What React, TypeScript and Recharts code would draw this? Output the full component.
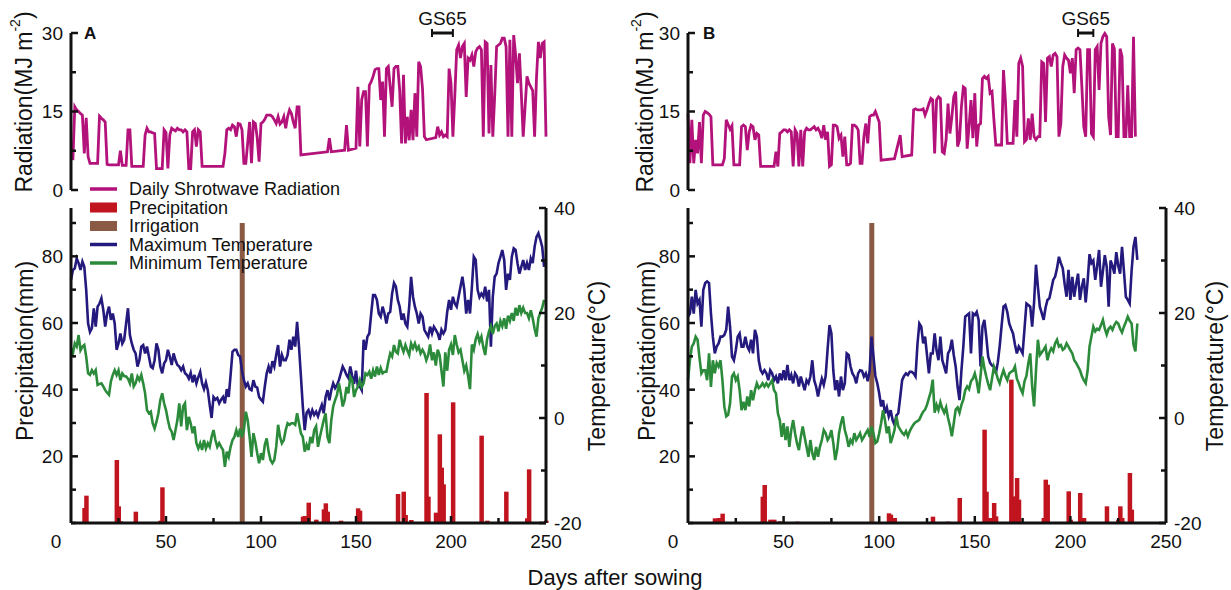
import React from "react";
import { Bar, ComposedChart, Line, LineChart, ReferenceLine, XAxis, YAxis } from "recharts";

const FONT = '"Liberation Sans", Arial, Helvetica, sans-serif';
const INK = "#111";
const RAD = "#b3127b";
const RAIN = "#c0141f";
const IRR = "#8b5a45";
const TMAX = "#24197d";
const TMIN = "#2b8b3a";

// ---- panel A (daily, index = day; radiation starts at day 1) ----
const radiationA: (number | null)[] = [
  5.7, 15.9, 15.3, 15, 14.6, 14.3, 7, 13.8, 6.4, 5.1,
  5.1, 5.1, 5.1, 5.1, 14.1, 13.7, 13.4, 13, 4.9, 4.8,
  4.8, 4.8, 4.8, 4.8, 4.8, 7.5, 4.7, 4.7, 4.7, 11.5,
  11.5, 4.5, 4.5, 4.5, 4.5, 4.5, 4.5, 4.5, 10.5, 11.8,
  11.1, 11.1, 10.9, 10.8, 4.1, 4.1, 4.1, 4.1, 11.5, 11,
  4.1, 10.5, 11.8, 11.5, 11.3, 11.8, 11.5, 11.5, 11.1, 11.5,
  11.1, 4.1, 4.1, 11.1, 11.5, 8.3, 11.5, 11.1, 4.5, 4.5,
  4.5, 4.5, 4.5, 4.5, 4.5, 4.5, 4.5, 4.5, 4.5, 4.5,
  7, 11.5, 11.8, 11.5, 12.4, 12.1, 10.2, 12.7, 12.6, 11.5,
  5.1, 5.1, 9, 13, 5.1, 13, 12.7, 10, 5.4, 12.7,
  13, 13.5, 14.3, 14.3, 14.3, 14, 13.4, 12.7, 14, 12.6,
  13, 14, 11.8, 14, 15.3, 14.6, 13, 11.8, 15.9, 15.9,
  6.7, null, null, null, null, null, null, null, null, null,
  null, null, null, null, 7.3, 9.9, 7.3, null, null, null,
  null, null, null, 7.6, 12.4, 7.6, null, null, null, 8,
  19.7, 8.3, 17.2, 18.8, 18.8, 8.3, 20, 20.7, 21.7, 23,
  23.2, 23.2, 17.2, 20.7, 10.2, 23.2, 23.6, 19.7, 15.9, 23.2,
  23.6, 23.6, 19, 8.9, 22, 8.9, 14, 9.5, 15.3, 9.5,
  18.5, 10.2, 24.5, 23.6, 19.4, 10.2, 9.6, null, null, null,
  null, 10, 12.1, 10.5, 11.1, 10.2, 10.5, 10.2, 23.2, 20.4,
  10.2, 18, 26.8, 27.7, 25.2, 27.4, 28, 17.8, 25.2, 24.8,
  25.8, 23.6, 26.4, 27.1, 27.4, 26.8, 10.2, 28.3, 28, 10.8,
  23.9, 10.2, 18, 27.4, 27.7, 28, 29, 29, 27.4, 10.2,
  28.7, 10.2, 29.6, 25.8, 20.4, 26.1, 18.5, 10.2, 15.9, 21.7,
  20.4, 19.7, 19, 10.2, 21.5, 28.3, 25.2, 28, 28.3, 10.2,
];

const tmaxA = [
  26.3, 28.2, 28.5, 30.4, 29.5, 28.2, 29.8, 28.8, 24.4, 18,
  16.4, 17.1, 20.9, 17.4, 21.2, 21.8, 22.8, 20.6, 17.4, 19.9,
  21.2, 18.7, 19.9, 18, 13, 14.2, 16.1, 14.2, 14.9, 18,
  20.9, 15.8, 14.2, 13, 12.3, 9.8, 11, 13.6, 13.9, 12.3,
  13.6, 11.7, 9.8, 9.5, 11, 14.2, 13, 9.8, 8.5, 10.4,
  11, 13, 11.7, 10.1, 12.3, 11, 10.1, 9.8, 9.1, 9.8,
  8.5, 8.2, 7.5, 8.6, 6.8, 8.2, 6.6, 7.8, 8.8, 6.6,
  5.5, 6.8, 5.3, 2.5, 0, 4, 3.5, 3.8, 2.8, 3.5,
  4, 2.8, 5.5, 4, 8.2, 12.6, 13, 13, 12, 11.7,
  9, 7.2, 6, 6.6, 5.5, 5.3, 7.2, 6, 5.8, 4,
  3.5, 3.1, 6, 8.5, 9.8, 8.5, 10.8, 9.8, 12, 13.9,
  9.8, 12, 11, 11, 12, 14.9, 13, 15.5, 13.6, 18.3,
  13.6, 8, 2.2, -2.3, 1, 1.5, 0.3, 1.5, 0.6, 1.2,
  0.3, 1.5, 2.5, 0.9, 4, 5.3, 3.4, 5.3, 6.6, 5.7,
  6.3, 7.2, 8.5, 9.8, 9.1, 8.2, 7.6, 9.8, 8, 6.5,
  9, 6, 6, 5.3, 14.9, 13, 15.5, 16.1, 19.9, 23.4,
  23.4, 22.5, 19.9, 19.3, 21.2, 19.9, 18, 19.9, 20.2, 23.7,
  25.7, 25, 22.5, 21.2, 18.7, 19.9, 18, 17.4, 21.2, 26.9,
  23.1, 21.2, 19.9, 18, 19.9, 19.3, 16.8, 16.1, 15.5, 17.4,
  16.1, 17.4, 16.8, 16.1, 14.9, 16.8, 16.1, 16.8, 20.2, 22.5,
  20.6, 23.1, 21.8, 21.2, 23.1, 25, 26.9, 24.4, 19.9, 22.5,
  19.9, 25, 30.7, 30.1, 24.4, 23, 23.7, 23.1, 25, 22.2,
  24.4, 13.6, 23.1, 26.9, 27.5, 29.5, 30.7, 32, 30.1, 24.4,
  27.5, 26.3, 30.7, 32.3, 32, 29.5, 27.5, 28.8, 30.1, 28.2,
  29.5, 28.2, 30.4, 29.5, 32.6, 34.5, 35.2, 34, 32.6, 28.8,
];

const tminA = [
  13.3, 12.3, 14.2, 13.6, 15.8, 12.9, 13.6, 13.9, 11.7, 8.5,
  8.2, 9.1, 8.5, 9.1, 6.3, 6.5, 6.6, 6, 5.3, 4.8,
  4.4, 7, 8.2, 9.1, 8.2, 9.1, 7.2, 8.5, 8, 7.9,
  7.5, 6.6, 8.5, 6, 6.6, 7.9, 7.2, 8.2, 6.6, 4.7,
  1.5, 0.9, 1.2, -1, -2, -0.7, 0.9, 3.4, 4.7, 2.8,
  1.5, -0.4, -2, -2.6, -4.2, -2.3, -0.4, 2.8, -1.6, 2.2,
  2.8, -2.3, 0.2, -1, -2.9, -1.6, -4.8, -5.8, -4.8, -6.1,
  -4.2, -5.8, -4.8, -5.5, -3.6, -2.3, -4.2, -5.5, -4.8, -5.5,
  -6.1, -9.3, -6.4, -7.4, -5.5, -4.2, -3.6, -2.3, -3.6, -2,
  -3.6, -2.3, 1.2, -0.4, -3.6, -7.4, -2.9, -4.5, -6.7, -8.6,
  -6.7, -8, -5.1, -3.9, -6.4, -8, -8.6, -8, -5.5, -1.3,
  -3.6, -4.8, -4.2, -2.3, -1, -1.3, -1, -1, -1.3, 0.9,
  -1, -2.9, -3.6, -6.4, -5.1, -6.1, -3.6, -4.8, -2.3, -1.6,
  -5.5, -3.6, -2, -0.4, 0.9, -3.6, -4.8, -0.4, 2.2, 3.4,
  4.4, 6.6, 4.7, 2.2, 3.4, 5.9, 4.7, 7.9, 7.2, 4,
  5.3, 5.9, 7.2, 5.9, 6.6, 8.5, 8.2, 8.8, 7.5, 9.1,
  7.9, 9.8, 8.2, 9.5, 8.5, 8.8, 8.8, 10.7, 12.3, 11.7,
  13.9, 12.6, 12.3, 14.9, 13.6, 12.6, 13.9, 12.9, 12, 14.2,
  13.3, 14.2, 13, 13.6, 12.3, 13, 12.3, 11, 12, 14,
  11, 12.5, 10, 13, 12, 9, 6, 12.5, 9, 13,
  14, 12, 15.8, 14, 12.5, 13, 11, 9, 10, 8,
  5.5, 14, 13, 15, 16, 14.5, 15.5, 13.5, 12, 15,
  16.5, 17.5, 16, 17.5, 18, 16.5, 18.5, 17.5, 19, 17,
  19.5, 18.5, 20, 18.5, 21, 19.5, 21.5, 20, 21, 20,
  20, 19, 20.5, 19, 17, 15.5, 19, 20, 21, 22.5,
];

const rainA: [number, number][] = [
  [7, 4.5], [8, 8.2], [24, 18.9], [25, 5], [26, 0.5], [34, 3.4], [47, 0.7], [48, 10.7],
  [122, 1.9], [123, 2.1], [125, 6.1], [129, 1], [133, 4.1], [134, 5.9], [135, 3.4], [142, 0.7],
  [151, 4.4], [152, 3.7], [172, 8.7], [175, 9.4], [176, 2.4], [179, 0.9], [187, 39], [188, 7.9],
  [192, 3.1], [194, 26.6], [195, 16.6], [196, 11.6], [201, 36.2], [216, 26.2], [219, 0.7],
  [229, 9.4], [240, 1.4], [241, 16.1], [250, 0.7],
];
const irrigationA: [number, number][] = [[90, 90]];
const gs65A: [number, number] = [190, 201];

// ---- panel B (daily, index = day) ----
const radiationB: (number | null)[] = [
  14.6, 5.1, 13.4, 5.1, 9.6, 7, 13, 5.1, 14.3, 15,
  14.8, 14.5, 14, 4.8, 4.8, 4.8, 4.8, 4.8, 4.8, 6,
  13.4, 12.5, 11.6, 12.3, 4.8, 4.8, 4.8, 4.8, 12.1, 12.4,
  12.1, 7.6, 11.1, 12.4, 12.1, 9.6, 10.8, 10.5, 4.5, 4.5,
  4.5, 4.5, 4.5, 4.5, 4.5, 4.5, 7.3, 4.5, 10.8, 11.1,
  11.5, 11.5, 11.1, 11.5, 11.1, 4.5, 11.5, 10.8, 4.5, 11.5,
  4.5, 11.1, 11.8, 11.5, 11.5, 11.8, 12.1, 11.5, 11.8, 11.1,
  9.9, 12.4, 9.6, 11.1, 4.5, 4.8, 12.4, 12.4, 12.1, 9.9,
  10.5, 6.4, 10.2, 4.8, 4.8, 5.1, 12.4, 12.4, 12.1, 11.5,
  5.1, 5.1, 10.2, 12.7, 8.9, 14, 14.3, 14.3, 15, 14,
  13, 5.7, null, null, null, null, null, null, 6, null,
  null, 10.5, 6.4, null, null, null, null, 6.7, 15.3, 15.5,
  15.3, 15.3, 15.3, 15.5, 14.3, 15.3, 16.5, 17.5, 17.2, 7,
  17.2, 17.8, 17.5, 7.3, 7, 9.6, 16.5, 10.8, 14, 17.8,
  18.8, 8.3, 9.6, 15.9, 19.7, 19.4, 7.9, 12.1, 17.2, 9.9,
  18.5, 8.3, 12.4, 12.7, 21.3, 21.7, 21.3, 21.7, 18.5, 18.8,
  13.4, 8.6, 8.6, 8.6, 8.6, 22.9, 17.2, 8.9, 8.9, 8.9,
  8.9, 17.2, 10.2, 24.2, 25.2, 23.6, 9.2, 9.6, 13.7, 9.6,
  14.6, 10.2, 9.6, 10.2, 10.2, 24.5, 24.2, 13, 25.2, 25.5,
  23.6, 25.8, 26.1, 25.5, 10.2, 12.7, 23.6, 25.8, 25.2, 24.8,
  22.3, 25.2, 18.5, 26.8, 27.1, 26.8, 19.7, 12.1, 10.2, 26.8,
  26.8, 10.8, 10.2, 26.8, 27.4, 19.1, 28, 29.3, 29.9, 29.3,
  14, 10.5, 28, 27, 10.2, 10.2, 27, 25.5, 10.2, 10.2,
  20, 10.2, 10.2, 29.3, 10.2,
];

const tmaxB = [
  19.3, 19.9, 23.1, 19.9, 24.4, 21.8, 22.5, 17.4, 24.4, 25.7,
  26, 25.7, 19.9, 15.5, 12.3, 13.6, 14.2, 15.5, 15.5, 15.8,
  16.8, 21.2, 17.4, 11.7, 11, 12.9, 15.5, 16.1, 13.6, 13.6,
  15.5, 13.6, 12.9, 14.9, 12.3, 16.8, 15.5, 11, 9.1, 8.5,
  9.1, 8.5, 7.2, 9.1, 8.5, 7.2, 7.9, 6.6, 8.5, 7.2,
  9.1, 7.2, 10.1, 7.2, 8.2, 6.6, 8.5, 7.9, 6, 7.9,
  6.6, 5.3, 7.2, 6.6, 7.9, 11, 7.2, 6, 4.1, 6,
  7.5, 6.3, 8, 13, 17.7, 16.1, 9, 5.3, 7.2, 4.1,
  7.9, 5.3, 6.6, 12.3, 12, 9.8, 8.5, 7.9, 6.6, 8.5,
  9.1, 9, 7.9, 8.5, 7, 9, 15.5, 11.7, 8, 6.6,
  4.7, 2.2, 3.4, 0.9, 2, 0.3, 1.5, -0.4, -1.3, 0.5,
  0.9, 4, 7.2, 8, 8.5, 8.2, 8.8, 8.8, 8.5, 7.9,
  14, 18, 17.4, 14.2, 15.5, 12, 8.5, 12.3, 12.3, 16.1,
  12.9, 11, 15.5, 11, 9.8, 8.5, 12.3, 13, 14.9, 12,
  9.8, 6, 3.4, 9, 13.6, 19.3, 19.6, 19.9, 12.3, 19.9,
  19.6, 20.2, 18.7, 9.8, 17.4, 18.7, 15.5, 11.7, 10.5, 10,
  9.8, 8.5, 10.5, 13.6, 17.5, 21.2, 21.5, 20.2, 18, 17,
  16.1, 14, 12.3, 13.6, 13, 12.3, 17, 21.8, 21.5, 21.2,
  17.4, 22, 29.2, 25, 21.2, 20, 18.7, 21, 22.5, 22.8,
  24.5, 26.3, 26.9, 28.5, 30.7, 29.5, 28.5, 25.5, 23.1, 28.2,
  22.5, 26.9, 23.1, 25.5, 27.5, 22.5, 25, 26.6, 22, 26,
  31.2, 29.5, 30, 26.3, 29, 32, 25, 28, 31, 28.8,
  21.2, 30, 29, 27.5, 31.6, 29, 27.5, 32.6, 28, 23.1,
  22.5, 21.8, 28, 32.6, 34.5, 30.1,
];

const tminB = [
  7.2, 11, 13.6, 14.2, 15.5, 14.9, 11.5, 8.5, 9.1, 9.1,
  7.2, 12.3, 5.9, 11, 8.5, 10.5, 9.8, 11, 7.2, 2.2,
  0.3, 0.6, 2.8, 7.9, 8.5, 7.2, 7.9, 5.3, 1.5, 3.1,
  1.5, 4.1, 2.2, 5.3, 3.4, 5.3, 6.6, 5.7, 6, 6.6,
  6, 6.6, 6, 6.6, 7.2, 5.3, 4.7, 0.9, -0.4, -3.6,
  -1, -4.2, -1.6, -5.5, -2.3, -0.4, -2.9, -4.8, -6.1, -3.6,
  -1.6, -3.6, -5.5, -7.4, -4.2, -6.7, -8, -5.5, -7.4, -5.5,
  -4.2, -2.3, -2.9, -4.2, -3.6, -2.3, -4.8, -8, -6.1, -2.9,
  -1, 0.3, -2.3, -3.6, -5.5, -4.2, -4.8, -2.9, -4.2, -3.6,
  -2.9, -4.2, -3.6, -2.9, -2.3, -3.6, -1.6, -2.9, -4.8, -4.5,
  -2.9, -1, 1.5, -0.4, -2.9, -1.6, -4.8, -3.6, -2.3, 0.3,
  -1.6, -2.2, -2.8, -3.2, -2.5, -3.5, -2.5, -1.8, -1.2, -0.8,
  -0.6, -0.3, 0.5, 1.2, 1.6, 2.5, 3.8, 5, 7.3, 1,
  2.5, 1.5, 3, 1.8, 1, 2, 0, -1.5, -3.5, -1,
  1.6, 2, 1, 2.5, 3.5, 5.3, 6, 5.5, 7, 7.5,
  8.5, 7, 4.7, 8, 11.7, 9.5, 7.9, 6.5, 5.3, 7.5,
  9.8, 8.8, 7.5, 6.6, 8, 9.1, 8, 7.2, 8.5, 8.8,
  9, 9.8, 7.5, 6.6, 5.5, 4.7, 7, 8, 10.5, 12.3,
  6, 2.2, 9, 14.9, 12, 12.5, 13, 13.6, 11, 12.5,
  13.3, 12.7, 14.2, 14.9, 13.6, 13.9, 13, 13.3, 14.2, 13.6,
  12.9, 12.3, 11, 10.5, 9.8, 9.1, 8, 7.2, 6.6, 9,
  13.6, 15.5, 17.4, 16.5, 17, 16.8, 17.7, 18.7, 17, 15.9,
  17, 17.4, 16.8, 17.7, 18.3, 18, 17, 16.3, 17.4, 18.3,
  19.3, 18.5, 18, 14, 12.7, 18,
];

const rainB: [number, number][] = [
  [14, 1.4], [16, 1.5], [18, 2.8], [39, 7.9], [40, 11.4], [43, 1], [45, 1], [48, 0.5], [57, 0.4],
  [105, 2.9], [106, 2.5], [108, 1.5], [128, 1.9], [136, 0.4], [142, 7.5], [155, 28], [156, 9.4],
  [158, 1.5], [160, 6], [161, 2], [169, 43], [171, 8], [172, 13.5], [173, 7], [186, 1.5],
  [187, 13], [188, 11.5], [199, 9.5], [200, 1], [205, 9], [207, 1.5], [219, 5], [225, 1],
  [226, 5], [227, 1.5], [231, 15], [232, 4],
];
const irrigationB: [number, number][] = [[96, 90]];
const gs65B: [number, number] = [204, 212];

// ---- axes ----
const dayTicks = [0, 25, 50, 75, 100, 125, 150, 175, 200, 225, 250];
const dayLabels = [0, 50, 100, 150, 200, 250];
const radTicks = [0, 7.5, 15, 22.5, 30];
const radLabels = [0, 15, 30];
const rainTicks = [0, 10, 20, 30, 40, 50, 60, 70, 80, 90];
const rainLabels = [20, 40, 60, 80];
const tempTicks = [-20, -10, 0, 10, 20, 30, 40];
const tempLabels = [-20, 0, 20, 40];

const legendItems = [
  { label: "Daily Shrotwave Radiation", color: RAD, kind: "line" },
  { label: "Precipitation", color: RAIN, kind: "box" },
  { label: "Irrigation", color: IRR, kind: "box" },
  { label: "Maximum Temperature", color: TMAX, kind: "line" },
  { label: "Minimum Temperature", color: TMIN, kind: "line" },
];

const tickFont = { fontFamily: FONT, fontSize: 19, fill: INK };
const axisLine = { stroke: INK, strokeWidth: 3 };
const AXIS_W = 60;

function bottomRows(tmax: number[], tmin: number[], rain: [number, number][], irrigation: [number, number][]) {
  const rows: Record<number, any> = {};
  const row = (d: number) => (rows[d] = rows[d] || { day: d });
  tmax.forEach((v, d) => (row(d).tmax = v));
  tmin.forEach((v, d) => (row(d).tmin = v));
  rain.forEach(([d, v]) => (row(d).rain = v));
  irrigation.forEach(([d, v]) => (row(d).irrigation = v));
  return Object.values(rows).sort((a: any, b: any) => a.day - b.day);
}

// bars on a daily number axis would be squeezed to ~2px, so widen them around their centre
function wideBar(w: number) {
  return (p: any) => {
    if (!p.height || p.height <= 0) return <g />;
    return <rect x={p.x + p.width / 2 - w / 2} y={p.y} width={w} height={p.height} fill={p.fill} />;
  };
}

function leftTick(labels: number[]) {
  return (p: any) => {
    const v = p.payload.value;
    const major = labels.includes(v);
    return (
      <g>
        <line x1={p.x} x2={p.x + (major ? 7 : 5)} y1={p.y} y2={p.y} stroke={INK} strokeWidth={2.5} />
        {major && (
          <text x={p.x - 8} y={p.y} dy="0.36em" textAnchor="end" style={tickFont}>
            {v}
          </text>
        )}
      </g>
    );
  };
}

function rightTick(labels: number[]) {
  return (p: any) => {
    const v = p.payload.value;
    const major = labels.includes(v);
    return (
      <g>
        <line x1={p.x} x2={p.x - (major ? 7 : 5)} y1={p.y} y2={p.y} stroke={INK} strokeWidth={2.5} />
        {major && (
          <text x={p.x + 8} y={p.y} dy="0.36em" textAnchor="start" style={tickFont}>
            {v}
          </text>
        )}
      </g>
    );
  };
}

function bottomTick(p: any) {
  const v = p.payload.value;
  const major = dayLabels.includes(v);
  const edge = v === 0 || v === 250;
  return (
    <g>
      {!edge && <line x1={p.x} x2={p.x} y1={p.y} y2={p.y - (major ? 7 : 5)} stroke={INK} strokeWidth={2.5} />}
      {major && (
        <text x={p.x + (v === 0 ? -15 : 0)} y={p.y + 12} dy="0.71em" textAnchor="middle" style={tickFont}>
          {v}
        </text>
      )}
    </g>
  );
}

function gsShape(p: any) {
  return (
    <g>
      <line x1={p.x1} x2={p.x2} y1={p.y1} y2={p.y2} stroke={INK} strokeWidth={3} />
      <line x1={p.x1} x2={p.x1} y1={p.y1 - 4} y2={p.y1 + 4} stroke={INK} strokeWidth={2} />
      <line x1={p.x2} x2={p.x2} y1={p.y1 - 4} y2={p.y1 + 4} stroke={INK} strokeWidth={2} />
      <text x={(p.x1 + p.x2) / 2} y={p.y1 - 8} textAnchor="middle" style={{ fontFamily: FONT, fontSize: 19, fill: INK }}>
        GS65
      </text>
    </g>
  );
}

function Panel(props: {
  left: number;
  width: number;
  plotLeft: number;
  plotRight: number;
  radiation: (number | null)[];
  radStart: number;
  tmax: number[];
  tmin: number[];
  rain: [number, number][];
  irrigation: [number, number][];
  gs65: [number, number];
}) {
  const { left, width, plotLeft, plotRight } = props;
  const radRows = props.radiation.map((v, i) => ({ day: props.radStart + i, rad: v }));
  const rows = bottomRows(props.tmax, props.tmin, props.rain, props.irrigation);
  const mLeft = plotLeft - left - AXIS_W;
  const mRightRad = left + width - plotRight;
  const mRight = mRightRad - AXIS_W;
  return (
    <div style={{ position: "absolute", left, top: 0, width, height: 590 }}>
      <div style={{ position: "absolute", left: 0, top: 0 }}>
        <LineChart width={width} height={200} data={radRows} margin={{ top: 33, bottom: 10, left: mLeft, right: mRightRad }}>
          <XAxis dataKey="day" type="number" domain={[0, 250]} hide />
          <YAxis
            domain={[0, 30]}
            ticks={radTicks}
            interval={0}
            width={AXIS_W}
            tickSize={0}
            tickMargin={0}
            tickLine={false}
            axisLine={axisLine}
            tick={leftTick(radLabels)}
          />
          <ReferenceLine
            segment={[
              { x: props.gs65[0], y: 30 },
              { x: props.gs65[1], y: 30 },
            ]}
            ifOverflow="visible"
            shape={gsShape}
          />
          <Line dataKey="rad" stroke={RAD} strokeWidth={2.8} dot={false} connectNulls isAnimationActive={false} />
        </LineChart>
      </div>
      <div style={{ position: "absolute", left: 0, top: 0 }}>
        <ComposedChart width={width} height={590} data={rows} margin={{ top: 208, bottom: 37, left: mLeft, right: mRight }}>
          <XAxis
            dataKey="day"
            type="number"
            domain={[0, 250]}
            ticks={dayTicks}
            interval={0}
            height={30}
            tickSize={0}
            tickMargin={0}
            tickLine={false}
            axisLine={axisLine}
            tick={bottomTick}
          />
          <YAxis
            yAxisId="rain"
            orientation="left"
            domain={[0, 94.5]}
            ticks={rainTicks}
            interval={0}
            width={AXIS_W}
            tickSize={0}
            tickMargin={0}
            tickLine={false}
            axisLine={axisLine}
            tick={leftTick(rainLabels)}
          />
          <YAxis
            yAxisId="temp"
            orientation="right"
            domain={[-20, 40]}
            ticks={tempTicks}
            interval={0}
            width={AXIS_W}
            tickSize={0}
            tickMargin={0}
            tickLine={false}
            axisLine={axisLine}
            tick={rightTick(tempLabels)}
          />
          <Bar yAxisId="rain" dataKey="rain" stackId="water" fill={RAIN} shape={wideBar(4.5)} isAnimationActive={false} />
          <Bar yAxisId="rain" dataKey="irrigation" stackId="water" fill={IRR} shape={wideBar(5)} isAnimationActive={false} />
          <Line yAxisId="temp" dataKey="tmax" stroke={TMAX} strokeWidth={2.6} dot={false} connectNulls isAnimationActive={false} />
          <Line yAxisId="temp" dataKey="tmin" stroke={TMIN} strokeWidth={2.6} dot={false} connectNulls isAnimationActive={false} />
        </ComposedChart>
      </div>
    </div>
  );
}

const titleFont = { fontFamily: FONT, fontSize: 23, fill: INK };

function VTitle({ x, y, children }: { x: number; y: number; children: React.ReactNode }) {
  return (
    <text x={x} y={y} transform={`rotate(-90 ${x} ${y})`} textAnchor="middle" dominantBaseline="central" style={titleFont}>
      {children}
    </text>
  );
}

function RadTitle({ x, y }: { x: number; y: number }) {
  return (
    <VTitle x={x} y={y}>
      Radiation(MJ m<tspan fontSize={14} dy={-9}>-2</tspan>
      <tspan dy={9}>)</tspan>
    </VTitle>
  );
}

export default function App() {
  return (
    <div style={{ position: "absolute", left: 0, top: 0, width: 1231, height: 590, background: "#fff", overflow: "hidden" }}>
      <Panel
        left={0}
        width={620}
        plotLeft={71}
        plotRight={546}
        radiation={radiationA}
        radStart={1}
        tmax={tmaxA}
        tmin={tminA}
        rain={rainA}
        irrigation={irrigationA}
        gs65={gs65A}
      />
      <Panel
        left={620}
        width={611}
        plotLeft={688}
        plotRight={1166}
        radiation={radiationB}
        radStart={0}
        tmax={tmaxB}
        tmin={tminB}
        rain={rainB}
        irrigation={irrigationB}
        gs65={gs65B}
      />
      <svg width={1231} height={590} style={{ position: "absolute", left: 0, top: 0, pointerEvents: "none" }}>
        <RadTitle x={24} y={102} />
        <VTitle x={25} y={351}>Precipitation(mm)</VTitle>
        <VTitle x={597} y={366}>Temperature(°C)</VTitle>
        <RadTitle x={645} y={102} />
        <VTitle x={647} y={351}>Precipitation(mm)</VTitle>
        <VTitle x={1215} y={366}>Temperature(°C)</VTitle>
        <text x={84} y={39} style={{ fontFamily: FONT, fontSize: 17, fontWeight: 700, fill: INK }}>A</text>
        <text x={703} y={39} style={{ fontFamily: FONT, fontSize: 17, fontWeight: 700, fill: INK }}>B</text>
        <text x={615} y={585} textAnchor="middle" style={{ fontFamily: FONT, fontSize: 22, fill: INK }}>
          Days after sowing
        </text>
        {legendItems.map((item, i) => {
          const cy = 189 + i * 18.5;
          return (
            <g key={item.label}>
              {item.kind === "line" ? (
                <line x1={90} x2={117} y1={cy} y2={cy} stroke={item.color} strokeWidth={3.5} />
              ) : (
                <rect x={90} y={cy - 5} width={27} height={10} fill={item.color} />
              )}
              <text x={129} y={cy} dy="0.36em" style={{ fontFamily: FONT, fontSize: 18, fill: INK }}>
                {item.label}
              </text>
            </g>
          );
        })}
      </svg>
    </div>
  );
}
